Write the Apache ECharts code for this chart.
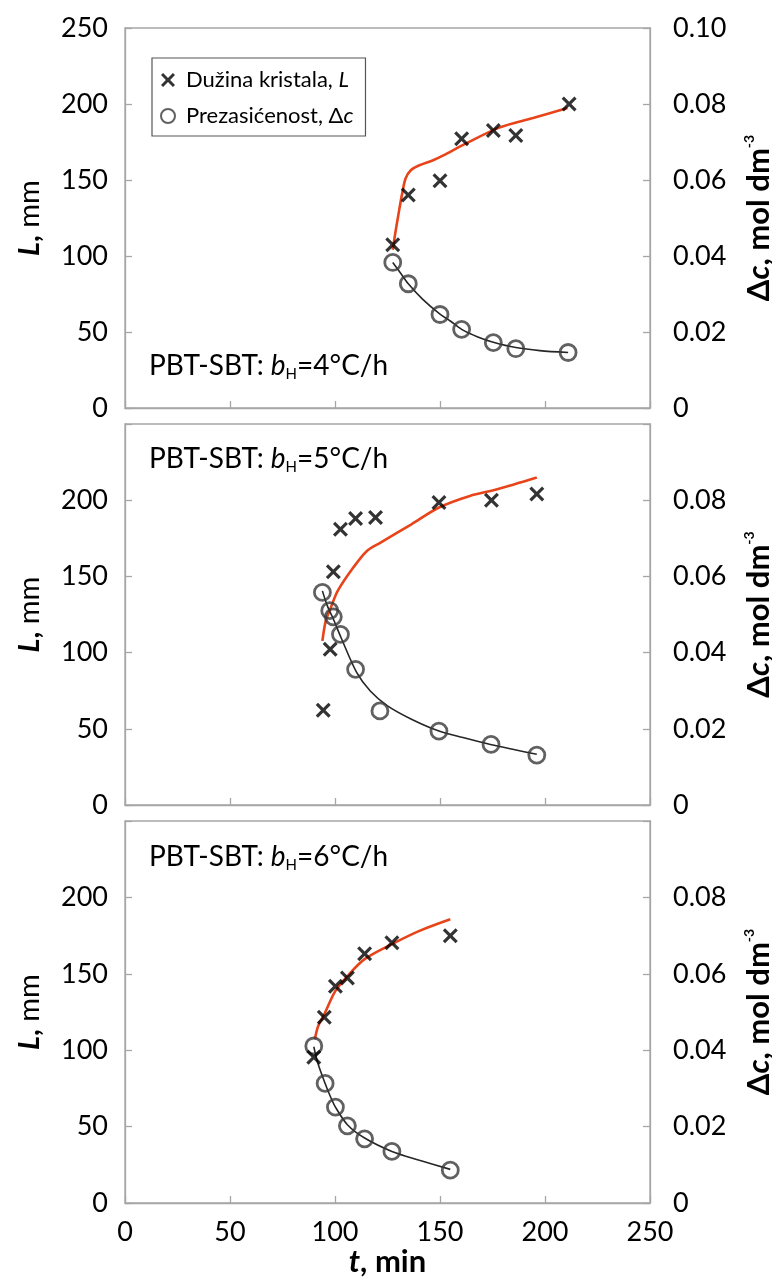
<!DOCTYPE html>
<html>
<head>
<meta charset="utf-8">
<script src="https://cdn.jsdelivr.net/npm/echarts@6/dist/echarts.min.js"></script>
<style>html,body{margin:0;padding:0;background:#fff}#c{width:772px;height:1281px}</style>
</head>
<body>
<div id="c"></div>
<script>
// ---------- DATA ----------
const xTicks = [0, 50, 100, 150, 200, 250];
const leftTicks = [0, 50, 100, 150, 200, 250];
const rightTicks = [0, 0.02, 0.04, 0.06, 0.08, 0.10];
const panelLabels = ['4°C/h', '5°C/h', '6°C/h'];
const seriesNames = ['Dužina kristala, L', 'Prezasićenost, Δc'];

// Panel 1 (bH = 4 °C/h)
const p1_tL  = [127.5, 134.9, 150.0, 160.3, 175.4, 186.1, 211.5];
const p1_L   = [107.4, 140.1, 149.5, 177.1, 182.6, 179.3, 200.0];
const p1_tC  = [127.5, 134.9, 150.0, 160.3, 175.4, 186.1, 211.0];
const p1_C   = [0.0383, 0.0327, 0.0246, 0.0207, 0.0172, 0.0156, 0.0146];
const p1_fitLt = [127.5, 128.7, 130.3, 132.0, 133.6, 136.1, 140.2, 146.7, 151.6, 161.5, 177.9, 194.3, 210.7];
const p1_fitL  = [104.1, 115.0, 128.1, 141.2, 151.0, 156.4, 159.7, 163.0, 166.2, 173.4, 184.3, 190.8, 197.4];
const p1_fitCt = [127.5, 131.1, 134.9, 141.8, 150.0, 154.9, 160.3, 168.0, 175.4, 186.1, 197.5, 211.0];
const p1_fitC  = [0.0383, 0.0356, 0.0327, 0.0286, 0.0247, 0.0229, 0.0207, 0.0187, 0.0173, 0.0159, 0.0151, 0.0146];

// Panel 2 (bH = 5 °C/h)
const p2_tL  = [94.4, 97.7, 99.2, 102.6, 109.8, 119.3, 149.5, 174.5, 196.1];
const p2_L   = [62.1, 102.2, 153.0, 181.0, 188.0, 188.6, 198.5, 200.0, 204.0];
const p2_tC  = [94.0, 97.5, 99.2, 102.6, 109.8, 121.4, 149.5, 174.3, 196.1];
const p2_C   = [0.0558, 0.0510, 0.0494, 0.0448, 0.0356, 0.0247, 0.0194, 0.0159, 0.0131];
const p2_fitLt = [94.0, 95.6, 98.0, 101.3, 108.7, 115.2, 121.7, 136.4, 149.5, 164.2, 177.3, 196.1];
const p2_fitL  = [107.7, 120.8, 129.5, 140.5, 155.8, 166.7, 172.2, 184.2, 195.2, 202.8, 207.2, 214.9];
const p2_fitCt = [94.0, 96.4, 98.9, 102.9, 110.3, 116.8, 125.0, 136.4, 149.5, 160.9, 174.0, 196.1];
const p2_fitC  = [0.0562, 0.0522, 0.0492, 0.0439, 0.0348, 0.0299, 0.0260, 0.0225, 0.0194, 0.0177, 0.0159, 0.0133];

// Panel 3 (bH = 6 °C/h)
const p3_tL  = [89.9, 94.9, 100.2, 105.9, 114.1, 127.1, 154.9];
const p3_L   = [95.4, 121.5, 141.9, 147.3, 163.1, 170.4, 174.9];
const p3_tC  = [89.9, 95.3, 100.2, 105.9, 114.1, 127.1, 154.9];
const p3_C   = [0.0411, 0.0313, 0.0251, 0.0202, 0.0168, 0.0135, 0.0086];
const p3_fitLt = [90.4, 92.0, 94.9, 100.2, 106.7, 114.1, 127.1, 140.2, 154.9];
const p3_fitL  = [107.1, 115.8, 123.5, 138.8, 149.7, 159.6, 169.4, 178.1, 185.7];
const p3_fitCt = [89.9, 92.0, 95.3, 97.7, 100.2, 105.9, 114.1, 127.1, 140.2, 154.9];
const p3_fitC  = [0.0409, 0.0363, 0.0313, 0.0280, 0.0251, 0.0205, 0.0170, 0.0135, 0.0112, 0.0088];

// ---------- BUILD ----------
const FONT = 'Lato';
const pair = (xs, ys) => xs.map((x, i) => [x, ys[i]]);
const panels = [
  {tL: p1_tL, L: p1_L, tC: p1_tC, C: p1_C, fLt: p1_fitLt, fL: p1_fitL, fCt: p1_fitCt, fC: p1_fitC},
  {tL: p2_tL, L: p2_L, tC: p2_tC, C: p2_C, fLt: p2_fitLt, fL: p2_fitL, fCt: p2_fitCt, fC: p2_fitC},
  {tL: p3_tL, L: p3_L, tC: p3_tC, C: p3_C, fLt: p3_fitLt, fL: p3_fitL, fCt: p3_fitCt, fC: p3_fitC}
];
const gridPos = [{top: 28, height: 380}, {top: 424, height: 381}, {top: 821, height: 382}];
const titleTops = [350, 443, 841];
const CROSS = 'path://M0,1.5L1.5,0L5,3.5L8.5,0L10,1.5L6.5,5L10,8.5L8.5,10L5,6.5L1.5,10L0,8.5L3.5,5Z';
const BORDER = '#a6a6a6';
const TF = 31; // axis title font size

const grids = [], xAxes = [], yAxes = [], series = [], titles = [];
panels.forEach((p, i) => {
  grids.push({left: 125, right: 122, top: gridPos[i].top, height: gridPos[i].height,
    outerBoundsMode: 'none', containLabel: false,
    show: true, borderColor: BORDER, borderWidth: 1.3, backgroundColor: '#fff'});
  const last = i === 2;
  xAxes.push({
    type: 'value', gridIndex: i, min: xTicks[0], max: xTicks[xTicks.length - 1], interval: xTicks[1] - xTicks[0],
    splitLine: {show: false},
    axisLine: {show: true, lineStyle: {color: BORDER, width: 1.3}},
    axisTick: {show: true, inside: true, length: 7, lineStyle: {color: BORDER, width: 1.3}},
    axisLabel: {show: last, margin: 16, fontFamily: FONT, fontSize: 27, color: '#000'},
    name: last ? '{bi|t}, min' : '', nameLocation: 'middle', nameGap: 43,
    nameTextStyle: {fontFamily: FONT, fontSize: TF, fontWeight: 'bold', color: '#000',
      rich: {bi: {fontFamily: FONT, fontSize: TF, fontWeight: 'bold', fontStyle: 'italic', color: '#000'}}}
  });
  yAxes.push({
    type: 'value', gridIndex: i, position: 'left', min: leftTicks[0], max: leftTicks[leftTicks.length - 1],
    interval: leftTicks[1] - leftTicks[0],
    splitLine: {show: false},
    axisLine: {show: true, lineStyle: {color: BORDER, width: 1.3}},
    axisTick: {show: true, inside: true, length: 7, lineStyle: {color: BORDER, width: 1.3}},
    axisLabel: {margin: 17, fontFamily: FONT, fontSize: 27, color: '#000',
      formatter: v => (i > 0 && v === leftTicks[leftTicks.length - 1]) ? '' : String(v)},
    name: '{bi|L}{b|,} mm', nameLocation: 'middle', nameGap: 81, nameRotate: 90,
    nameTextStyle: {fontFamily: FONT, fontSize: 29, color: '#000',
      rich: {bi: {fontFamily: FONT, fontSize: 29, fontWeight: 'bold', fontStyle: 'italic', color: '#000'},
             b: {fontFamily: FONT, fontSize: 29, fontWeight: 'bold', color: '#000'}}}
  });
  yAxes.push({
    type: 'value', gridIndex: i, position: 'right', min: rightTicks[0], max: rightTicks[rightTicks.length - 1],
    interval: rightTicks[1] - rightTicks[0],
    splitLine: {show: false},
    axisLine: {show: true, lineStyle: {color: BORDER, width: 1.3}},
    axisTick: {show: true, inside: true, length: 7, lineStyle: {color: BORDER, width: 1.3}},
    axisLabel: {margin: 23, fontFamily: FONT, fontSize: 27, color: '#000',
      formatter: v => (i > 0 && Math.abs(v - rightTicks[rightTicks.length - 1]) < 1e-9) ? '' : (v === 0 ? '0' : v.toFixed(2))},
    name: 'Δ{bi|c}, mol dm{sup|-3}', nameLocation: 'middle', nameGap: 92, nameRotate: 90,
    nameTextStyle: {fontFamily: FONT, fontSize: TF, fontWeight: 'bold', color: '#000', lineHeight: 34,
      rich: {bi: {fontFamily: FONT, fontSize: TF, fontWeight: 'bold', fontStyle: 'italic', color: '#000', lineHeight: 34},
             sup: {fontFamily: FONT, fontSize: 14, fontWeight: 'bold', color: '#000', verticalAlign: 'top', lineHeight: 12}}}
  });
  titles.push({
    text: 'PBT-SBT: {b|b}{s|H}=' + panelLabels[i], left: 149, top: titleTops[i], padding: 0,
    textStyle: {fontFamily: FONT, fontSize: 28, fontWeight: 'normal', color: '#000', lineHeight: 32,
      rich: {b: {fontFamily: FONT, fontSize: 28, fontStyle: 'italic', color: '#000', lineHeight: 32},
             s: {fontFamily: FONT, fontSize: 15, color: '#000', verticalAlign: 'bottom', lineHeight: 14}}}
  });
  const yl = 2 * i, yr = 2 * i + 1;
  series.push({
    type: 'line', name: 'fitL' + i, xAxisIndex: i, yAxisIndex: yl, data: pair(p.fLt, p.fL),
    showSymbol: false, smooth: 0.3, lineStyle: {color: '#E8441A', width: 2.6}, z: 2, silent: true
  });
  series.push({
    type: 'line', name: 'fitC' + i, xAxisIndex: i, yAxisIndex: yr, data: pair(p.fCt, p.fC),
    showSymbol: false, smooth: 0.3, lineStyle: {color: '#262626', width: 1.6}, z: 2, silent: true
  });
  series.push({
    type: 'scatter', name: seriesNames[1], xAxisIndex: i, yAxisIndex: yr, data: pair(p.tC, p.C),
    symbol: 'circle', symbolSize: 16,
    itemStyle: {color: 'rgba(255,255,255,0)', borderColor: '#3a3a3a', borderWidth: 2.8}, z: 3
  });
  series.push({
    type: 'scatter', name: seriesNames[0], xAxisIndex: i, yAxisIndex: yl, data: pair(p.tL, p.L),
    symbol: CROSS, symbolSize: 15, itemStyle: {color: '#000'}, z: 4
  });
});

const chart = echarts.init(document.getElementById('c'), null, {renderer: 'canvas'});
chart.setOption({
  animation: false,
  backgroundColor: '#fff',
  title: titles,
  legend: {
    data: [{name: seriesNames[0], icon: CROSS}, {name: seriesNames[1], icon: 'circle'}],
    orient: 'vertical', left: 152, top: 58,
    itemWidth: 26, itemHeight: 14, itemGap: 10,
    padding: [9, 12, 7, 8],
    borderColor: '#555', borderWidth: 1.2, backgroundColor: '#fff',
    selectedMode: false,
    formatter: n => n === seriesNames[0] ? 'Dužina kristala, {i|L}' : 'Prezasićenost, Δ{i|c}',
    textStyle: {fontFamily: FONT, fontSize: 22, color: '#000', lineHeight: 26,
      rich: {i: {fontFamily: FONT, fontSize: 22, fontStyle: 'italic', color: '#000', lineHeight: 26}}}
  },
  grid: grids, xAxis: xAxes, yAxis: yAxes, series: series
});
</script>
</body>
</html>
